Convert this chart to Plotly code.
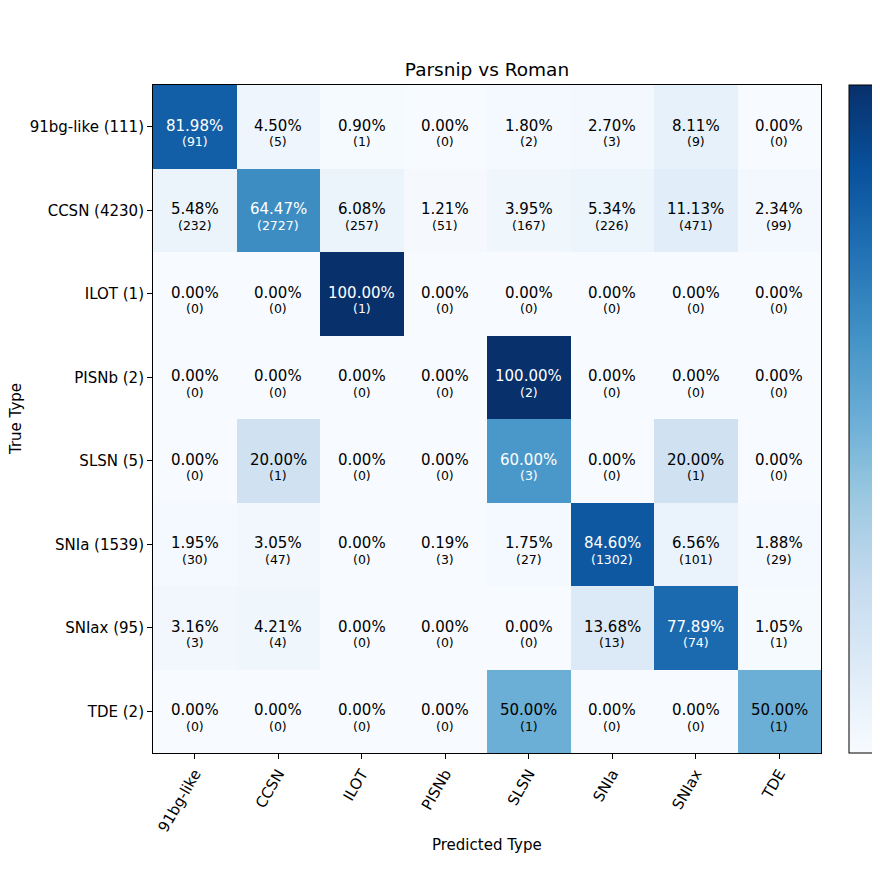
import plotly.graph_objects as go

true_labels = ["91bg-like (111)", "CCSN (4230)", "ILOT (1)", "PISNb (2)", "SLSN (5)", "SNIa (1539)", "SNIax (95)", "TDE (2)"]
pred_labels = ["91bg-like", "CCSN", "ILOT", "PISNb", "SLSN", "SNIa", "SNIax", "TDE"]

counts_91bg = [91, 5, 1, 0, 2, 3, 9, 0]
counts_ccsn = [232, 2727, 257, 51, 167, 226, 471, 99]
counts_ilot = [0, 0, 1, 0, 0, 0, 0, 0]
counts_pisnb = [0, 0, 0, 0, 2, 0, 0, 0]
counts_slsn = [0, 1, 0, 0, 3, 0, 1, 0]
counts_snia = [30, 47, 0, 3, 27, 1302, 101, 29]
counts_sniax = [3, 4, 0, 0, 0, 13, 74, 1]
counts_tde = [0, 0, 0, 0, 1, 0, 0, 1]

counts = [counts_91bg, counts_ccsn, counts_ilot, counts_pisnb, counts_slsn, counts_snia, counts_sniax, counts_tde]
fractions = [[c / sum(row) for c in row] for row in counts]

blues = [
    [0.0, "#f7fbff"], [0.125, "#deebf7"], [0.25, "#c6dbef"], [0.375, "#9ecae1"],
    [0.5, "#6baed6"], [0.625, "#4292c6"], [0.75, "#2171b5"], [0.875, "#08519c"], [1.0, "#08306b"],
]

fig = go.Figure()
fig.add_trace(go.Heatmap(
    z=fractions, x=pred_labels, y=true_labels,
    colorscale=blues, zmin=0, zmax=1, hoverinfo="skip",
    colorbar=dict(
        x=1.042, xanchor="left", xref="paper", y=0.5, yanchor="middle",
        len=1.0, lenmode="fraction", thickness=27, thicknessmode="pixels",
        outlinecolor="black", outlinewidth=1,
        ticks="outside", ticklen=5, tickcolor="black",
        tickvals=[0, 0.25, 0.5, 0.75], showticklabels=False,
        xpad=0, ypad=0,
    ),
))

annotations = []
for i, row in enumerate(counts):
    for j, c in enumerate(row):
        f = fractions[i][j]
        color = "white" if f > 0.5 else "black"
        annotations.append(dict(x=pred_labels[j], y=true_labels[i], xref="x", yref="y",
                                text=f"{f*100:.2f}%", showarrow=False, yshift=1,
                                font=dict(family="DejaVu Sans", size=15, color=color)))
        annotations.append(dict(x=pred_labels[j], y=true_labels[i], xref="x", yref="y",
                                text=f"({c})", showarrow=False, yshift=-15,
                                font=dict(family="DejaVu Sans", size=12.5, color=color)))

annotations.append(dict(x=0.5, y=-0.138, xref="paper", yref="paper", yanchor="middle",
                        text="Predicted Type", showarrow=False,
                        font=dict(family="DejaVu Sans", size=15, color="black")))
annotations.append(dict(x=-0.205, y=0.5, xref="paper", yref="paper", xanchor="center",
                        text="True Type", showarrow=False, textangle=-90,
                        font=dict(family="DejaVu Sans", size=15, color="black")))

fig.update_layout(
    width=880, height=880,
    margin=dict(l=145, r=67, t=77, b=135, autoexpand=False),
    paper_bgcolor="white", plot_bgcolor="white",
    title=dict(text="Parsnip vs Roman", x=0.5, xref="paper", y=1 - 62 / 880, yanchor="middle",
               font=dict(family="DejaVu Sans", size=18.5, color="black")),
    annotations=annotations,
    font=dict(family="DejaVu Sans", color="black"),
)
fig.update_xaxes(
    tickangle=-60, ticks="outside", ticklen=5, tickcolor="black",
    showline=True, linecolor="black", linewidth=1, mirror=True,
    tickfont=dict(family="DejaVu Sans", size=15, color="black"), showgrid=False,
)
fig.update_yaxes(
    autorange="reversed", ticks="outside", ticklen=5, tickcolor="black",
    showline=True, linecolor="black", linewidth=1, mirror=True,
    tickfont=dict(family="DejaVu Sans", size=15, color="black"), showgrid=False,
)

fig.write_html("out.html")
